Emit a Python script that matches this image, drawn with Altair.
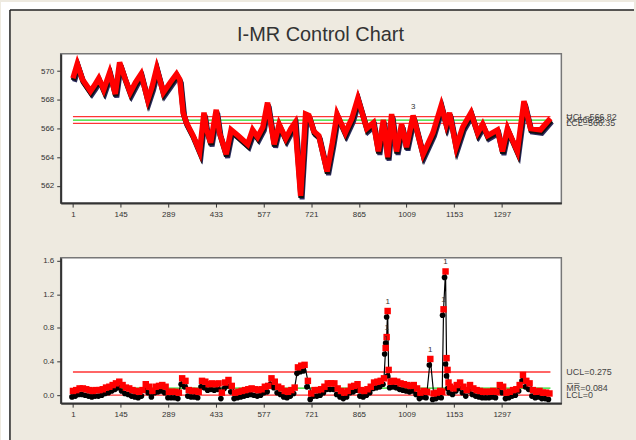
import altair as alt
import pandas as pd

TITLE = "I-MR Control Chart"
x_ticks = [1, 145, 289, 433, 577, 721, 865, 1009, 1153, 1297]

i_idx = [1, 14, 30, 54, 66, 79, 94, 112, 129, 142, 158, 174, 190, 207, 227, 240, 254, 274, 295, 314,
         324, 334, 344, 364, 384, 397, 404, 417, 434, 444, 464, 479, 500, 529, 544, 559, 575, 589, 609,
         624, 644, 660, 672, 689, 704, 714, 729, 744, 769, 785, 799, 824, 844, 862, 889, 909, 924, 939,
         952, 964, 979, 994, 1009, 1029, 1059, 1089, 1114, 1129, 1139, 1159, 1179, 1204, 1224, 1239,
         1254, 1284, 1299, 1314, 1344, 1364, 1384, 1414, 1444]
i_val = [569.5, 570.5, 569.4, 568.6, 569.0, 569.5, 568.7, 569.9, 568.4, 570.6, 569.5, 568.5, 569.2, 569.8,
         568.0, 568.9, 570.2, 568.5, 569.2, 569.8, 569.4, 567.1, 566.4, 565.5, 564.4, 567.1, 566.0, 565.0,
         567.3, 565.7, 564.2, 565.9, 565.5, 564.9, 565.9, 565.4, 566.1, 567.8, 564.9, 566.3, 565.3, 566.0,
         566.4, 561.3, 567.0, 566.9, 565.8, 565.5, 563.0, 565.0, 567.0, 565.7, 566.7, 568.1, 566.0, 566.4,
         564.4, 566.6, 564.0, 567.0, 564.4, 566.3, 564.7, 566.9, 564.2, 565.7, 567.6, 566.3, 567.1, 564.7,
         566.1, 567.1, 565.7, 566.3, 565.5, 565.9, 564.4, 566.0, 564.4, 567.9, 566.0, 565.9, 566.7]
i_ucl, i_cl, i_lcl = 566.82, 566.58, 566.35
i_labels = ["UCL=566.82", "X\u0305=566.58", "LCL=566.35"]
i_fail_idx = [1029]
i_fail_val = [566.9]
i_fail_txt = ["3"]

# Moving range chart
mr_idx = [1, 11, 21, 31, 41, 51, 61, 71, 81, 91, 101, 111, 121, 131, 141, 151, 161, 171, 181, 191,
          201, 211, 221, 231, 241, 251, 261, 271, 281, 291, 301, 311, 321, 331, 341, 351, 361, 371, 381,
          391, 401, 411, 421, 431, 441, 451, 461, 471, 481, 491, 501, 511, 521, 531, 541, 551, 561, 571,
          581, 591, 601, 611, 621, 631, 641, 651, 661, 671, 681, 691, 701, 711, 721, 731, 741, 751, 761,
          771, 781, 791, 801, 811, 821, 831, 841, 851, 861, 871, 881, 891, 901, 911, 921, 931, 941, 946,
          949, 952, 955, 961, 971, 981, 991, 1001, 1011, 1021, 1031, 1041, 1051, 1061, 1071, 1081, 1091,
          1101, 1111, 1117, 1121, 1127, 1130, 1133, 1136, 1141, 1151, 1161, 1171, 1181, 1191, 1201, 1211,
          1221, 1231, 1241, 1251, 1261, 1271, 1281, 1291, 1301, 1311, 1321, 1331, 1341, 1351, 1361, 1371,
          1381, 1391, 1401, 1411, 1421, 1431, 1441]
mr_val = [0.05, 0.06, 0.08, 0.08, 0.07, 0.06, 0.05, 0.06, 0.06, 0.07, 0.09, 0.10, 0.12, 0.14, 0.16, 0.12,
          0.09, 0.08, 0.06, 0.05, 0.04, 0.06, 0.13, 0.10, 0.05, 0.10, 0.11, 0.12, 0.10, 0.04, 0.04, 0.04,
          0.03, 0.20, 0.17, 0.06, 0.05, 0.05, 0.04, 0.17, 0.16, 0.13, 0.14, 0.13, 0.14, 0.03, 0.15, 0.18,
          0.11, 0.03, 0.04, 0.05, 0.06, 0.07, 0.08, 0.07, 0.06, 0.07, 0.10, 0.11, 0.20, 0.16, 0.10, 0.08,
          0.05, 0.04, 0.06, 0.09, 0.33, 0.35, 0.36, 0.17, 0.02, 0.06, 0.06, 0.07, 0.10, 0.14, 0.14, 0.14,
          0.08, 0.05, 0.03, 0.05, 0.10, 0.11, 0.13, 0.06, 0.05, 0.07, 0.10, 0.15, 0.16, 0.17, 0.20, 0.56,
          0.69, 1.00, 0.30, 0.16, 0.17, 0.16, 0.14, 0.13, 0.12, 0.11, 0.12, 0.08, 0.03, 0.05, 0.04, 0.43,
          0.02, 0.03, 0.05, 0.04, 1.02, 1.47, 0.44, 0.30, 0.15, 0.10, 0.08, 0.12, 0.15, 0.10, 0.06, 0.12,
          0.08, 0.06, 0.05, 0.04, 0.04, 0.04, 0.05, 0.04, 0.12, 0.10, 0.03, 0.04, 0.06, 0.07, 0.12, 0.24,
          0.17, 0.14, 0.06, 0.04, 0.05, 0.03, 0.03, 0.02]
mr_ucl, mr_cl, mr_lcl = 0.275, 0.084, 0.0
mr_labels = ["UCL=0.275", "M\u0305R\u0305=0.084", "LCL=0"]
fail_idx = [946, 949, 952, 1081, 1121, 1127]
fail_val = [0.56, 0.69, 1.00, 0.43, 1.02, 1.47]

W, H1, H2 = 503, 150, 146
BEIGE = "#EEEAE0"
FONT = "Liberation Sans"

xscale = alt.Scale(domain=[-36, 1477], nice=False, zero=False)
xaxis = alt.Axis(values=x_ticks, tickCount=20, title=None, labelFlush=False, format="d",
                 labelOverlap=False)

one = alt.Chart(pd.DataFrame({"k": [0]}))

# page frame decoration: white strips outside the beige panel, dark border
strip_top = one.mark_rect(color="white").encode(
    x=alt.value(-60), x2=alt.value(576), y=alt.value(-52), y2=alt.value(-44))
strip_left = one.mark_rect(color="white").encode(
    x=alt.value(-60), x2=alt.value(-51), y=alt.value(-52), y2=alt.value(388))
border_top = one.mark_rule(color="#222", strokeWidth=1.5).encode(
    x=alt.value(-51), x2=alt.value(576), y=alt.value(-44))
border_left = one.mark_rule(color="#222", strokeWidth=1.5).encode(
    x=alt.value(-51), y=alt.value(-44), y2=alt.value(388))
title = one.mark_text(text=TITLE, fontSize=20, font=FONT, color="#333",
                      align="center", baseline="alphabetic").encode(
    x=alt.value(261), y=alt.value(-13))

# ---- Individuals panel
i_df = pd.DataFrame({"idx": i_idx, "val": i_val})
ylim1 = pd.DataFrame({"v": [i_ucl, i_cl, i_lcl], "col": ["#FF3333", "#22DD22", "#FF3333"],
                      "x1": [1, 1, 1], "x2": [1444, 1444, 1444], "t": i_labels})
ifail_df = pd.DataFrame({"idx": i_fail_idx, "val": i_fail_val, "t": i_fail_txt})
yscale1 = alt.Scale(domain=[560.8, 571.2], nice=False, zero=False)
yaxis1 = alt.Axis(values=[562, 564, 566, 568, 570], tickCount=10, title=None, labelOverlap=False)

b1 = alt.Chart(i_df)
lim1 = alt.Chart(ylim1).mark_rule(strokeWidth=1.3).encode(
    x=alt.X("x1:Q", scale=xscale, axis=xaxis), x2="x2:Q",
    y=alt.Y("v:Q", scale=yscale1, axis=yaxis1), color=alt.Color("col:N", scale=None))
navy1 = b1.mark_line(color="#2b2b5e", strokeWidth=5, xOffset=1.5, yOffset=3.5).encode(
    x=alt.X("idx:Q", scale=xscale, axis=xaxis), y=alt.Y("val:Q", scale=yscale1, axis=yaxis1))
black1 = b1.mark_line(color="#111111", strokeWidth=5.5, xOffset=0.5, yOffset=2).encode(
    x="idx:Q", y="val:Q")
red1 = b1.mark_line(color="#FF0000", strokeWidth=5.5).encode(x="idx:Q", y="val:Q")
ifail = alt.Chart(ifail_df).mark_text(dy=-9, fontSize=8, font=FONT, color="#333").encode(
    x="idx:Q", y="val:Q", text="t:N")
lab1 = alt.Chart(ylim1).mark_text(align="left", baseline="middle", fontSize=9, font=FONT,
                                  color="#444").encode(
    x=alt.value(W + 5), y="v:Q", text="t:N")

top = alt.layer(strip_top, strip_left, border_top, border_left, title,
                lim1, navy1, black1, red1, ifail, lab1).properties(width=W, height=H1)

# ---- Moving range panel
mr_df = pd.DataFrame({"idx": mr_idx, "val": mr_val})
ylim2 = pd.DataFrame({"v": [mr_ucl, mr_cl, mr_lcl], "col": ["#FF3333", "#22DD22", "#FF3333"],
                      "x1": [1, 1, 1], "x2": [1444, 1444, 1444], "t": mr_labels})
fail_df = pd.DataFrame({"idx": fail_idx, "val": fail_val, "t": ["1"] * len(fail_idx)})
yscale2 = alt.Scale(domain=[-0.095, 1.632], nice=False, zero=False)
yaxis2 = alt.Axis(values=[0, 0.4, 0.8, 1.2, 1.6], tickCount=10, format=".1f", title=None,
                  labelOverlap=False)

b2 = alt.Chart(mr_df)
lim2 = alt.Chart(ylim2).mark_rule(strokeWidth=1.3).encode(
    x=alt.X("x1:Q", scale=xscale, axis=xaxis), x2="x2:Q",
    y=alt.Y("v:Q", scale=yscale2, axis=yaxis2), color=alt.Color("col:N", scale=None))
line2 = b2.mark_line(color="#000000", strokeWidth=1.2).encode(
    x=alt.X("idx:Q", scale=xscale, axis=xaxis), y=alt.Y("val:Q", scale=yscale2, axis=yaxis2))
dots2 = b2.mark_point(shape="circle", filled=True, size=32, color="#000000", opacity=1,
                      yOffset=6, xOffset=-1).encode(x="idx:Q", y="val:Q")
sq2 = b2.mark_point(shape="square", filled=True, size=42, color="#FF0000", opacity=1).encode(
    x="idx:Q", y="val:Q")
fail_txt = alt.Chart(fail_df).mark_text(dy=-9, fontSize=8, font=FONT, color="#333").encode(
    x="idx:Q", y="val:Q", text="t:N")
lab2 = alt.Chart(ylim2).mark_text(align="left", baseline="middle", fontSize=9, font=FONT,
                                  color="#444").encode(
    x=alt.value(W + 5), y="v:Q", text="t:N")

bottom = alt.layer(lim2, line2, dots2, sq2, fail_txt, lab2).properties(width=W, height=H2)

chart = alt.vconcat(top, bottom, spacing=55, bounds="flush").properties(
    padding=0, background=BEIGE
).configure_view(
    fill="white", stroke="#777", strokeWidth=1.5
).configure_axis(
    labelFont=FONT, labelFontSize=8, labelColor="#333", domainColor="#333", domainWidth=2,
    tickColor="#333", tickSize=4, labelPadding=3, grid=False
)

chart.save("out.html", embed_options={"renderer": "svg", "actions": False})
